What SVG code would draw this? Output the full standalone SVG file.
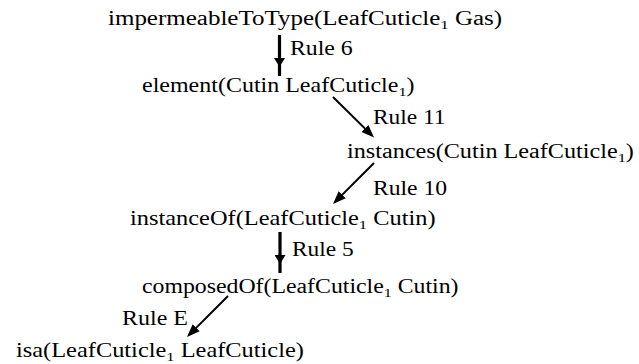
<svg xmlns="http://www.w3.org/2000/svg" width="639" height="364" viewBox="0 0 639 364">
  <style>
    text { font-size: 20px; fill: #000; }
    .sub { font-size: 13.5px; }
    .thick { stroke: #000; stroke-width: 3.2; fill: none; }
    .thin { stroke: #000; stroke-width: 2; fill: none; }
  </style>
  <defs>
    <!-- head for the bold vertical steps: sits on an inner vertex, shaft continues past it -->
    <marker id="vhead" viewBox="0 0 9 11" refX="9" refY="5.5" markerWidth="9" markerHeight="11" markerUnits="userSpaceOnUse" orient="auto">
      <path d="M0,0 L9,5.5 L0,11 z" fill="#000"/>
    </marker>
    <!-- head for the thin diagonal steps: tip 3px beyond the shaft end -->
    <marker id="dhead" viewBox="0 0 13 10" refX="10" refY="5" markerWidth="13" markerHeight="10" markerUnits="userSpaceOnUse" orient="auto">
      <path d="M0,0 L13,5 L0,10 z" fill="#000"/>
    </marker>
  </defs>

  <rect width="639" height="364" fill="#fff"/>

  <!-- all labels: Times-metric serif, widened horizontally to the wider book face -->
  <g font-family="'Liberation Serif', 'Times New Roman', serif">
    <g id="connectors">
      <g id="e-rule6">
        <path class="thick" d="M279.5,35 V67 V76" marker-mid="url(#vhead)"/>
        <text transform="translate(290 55) scale(1.19 1)">Rule 6</text>
      </g>
      <g id="e-rule11">
        <path class="thin" d="M333,97 L371.9,135.4" marker-end="url(#dhead)"/>
        <text transform="translate(373 124) scale(1.17 1)">Rule 11</text>
      </g>
      <g id="e-rule10">
        <path class="thin" d="M374,163 L335.1,201.9" marker-end="url(#dhead)"/>
        <text transform="translate(373 195) scale(1.18 1)">Rule 10</text>
      </g>
      <g id="e-rule5">
        <path class="thick" d="M280,232 V264 V273" marker-mid="url(#vhead)"/>
        <text transform="translate(292 256) scale(1.17 1)">Rule 5</text>
      </g>
      <g id="e-ruleE">
        <path class="thin" d="M228,296 L189.1,334.9" marker-end="url(#dhead)"/>
        <text transform="translate(122 325) scale(1.2 1)">Rule E</text>
      </g>
    </g>

    <g id="n-impermeable">
      <text transform="translate(108 25) scale(1.25 1)">impermeableToType(LeafCuticle<tspan class="sub" dy="3.5">1</tspan><tspan dy="-3.5"> Gas)</tspan></text>
    </g>
    <g id="n-element">
      <text transform="translate(142 92) scale(1.2 1)">element(Cutin LeafCuticle<tspan class="sub" dy="3.5">1</tspan><tspan dy="-3.5">)</tspan></text>
    </g>
    <g id="n-instances">
      <text transform="translate(347 158) scale(1.21 1)">instances(Cutin LeafCuticle<tspan class="sub" dy="3.5">1</tspan><tspan dy="-3.5">)</tspan></text>
    </g>
    <g id="n-instanceOf">
      <text transform="translate(130 225) scale(1.22 1)">instanceOf(LeafCuticle<tspan class="sub" dy="3.5">1</tspan><tspan dy="-3.5"> Cutin)</tspan></text>
    </g>
    <g id="n-composedOf">
      <text transform="translate(142 293) scale(1.19 1)">composedOf(LeafCuticle<tspan class="sub" dy="3.5">1</tspan><tspan dy="-3.5"> Cutin)</tspan></text>
    </g>
    <g id="n-isa">
      <text transform="translate(16 357) scale(1.22 1)">isa(LeafCuticle<tspan class="sub" dy="3.5">1</tspan><tspan dy="-3.5"> LeafCuticle)</tspan></text>
    </g>
  </g>
</svg>
